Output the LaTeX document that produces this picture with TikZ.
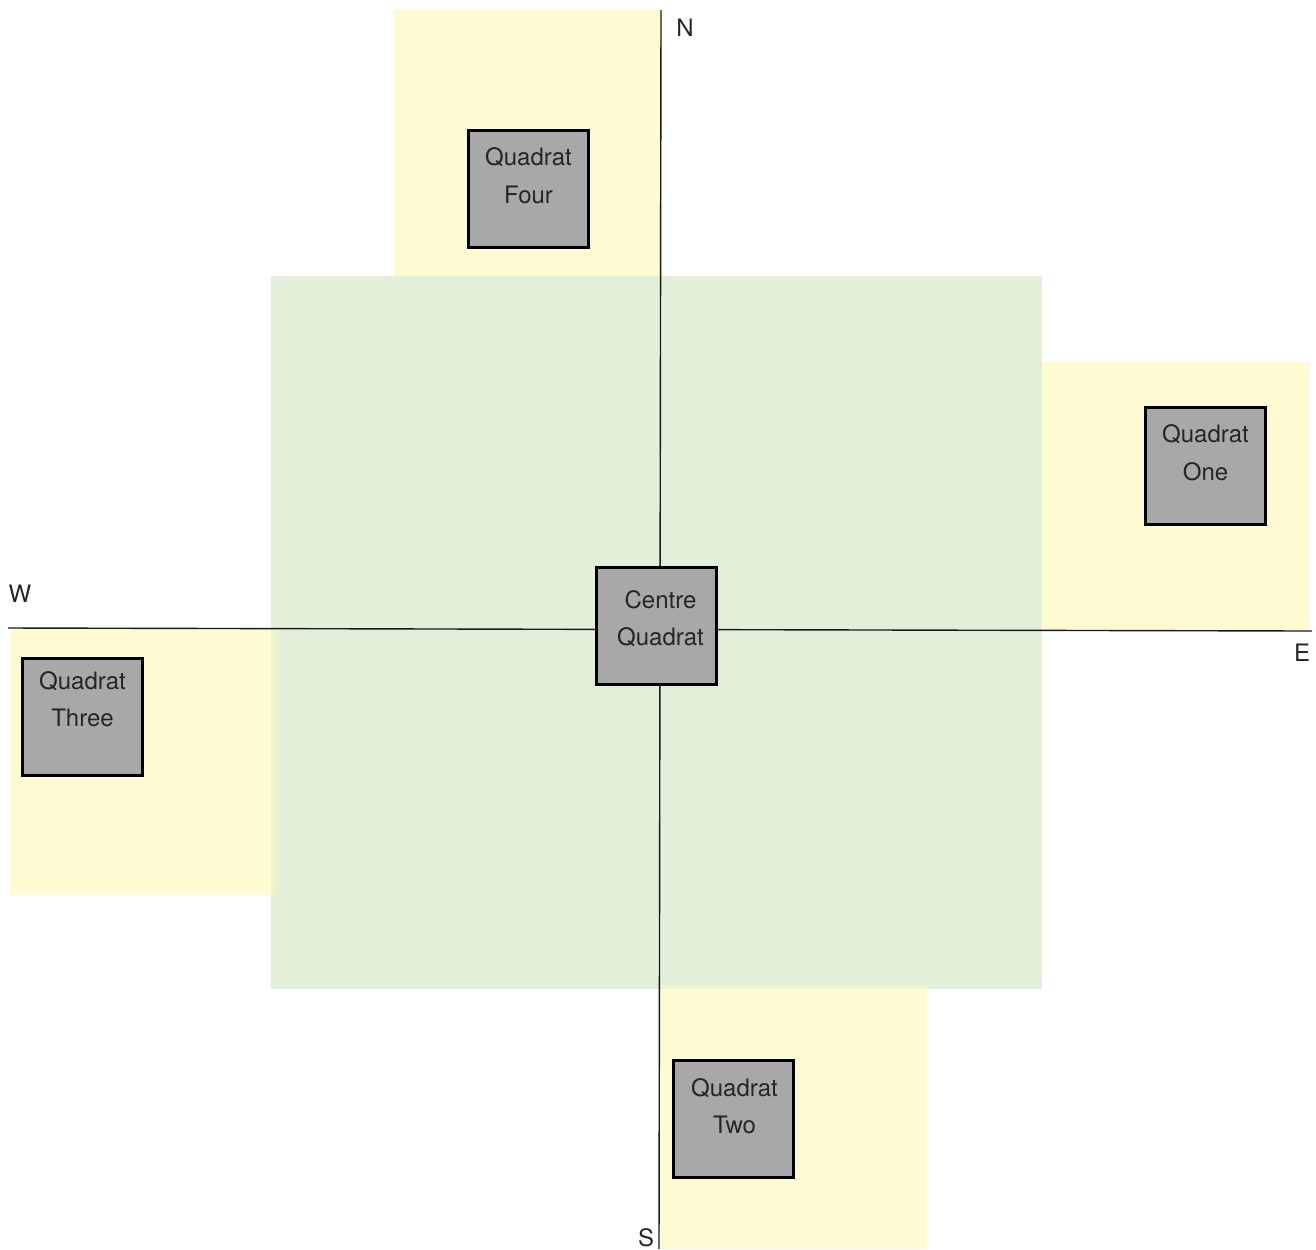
\documentclass[tikz,border=0pt]{standalone}
\usepackage{fontspec}
\setmainfont{TeX Gyre Heros}
\definecolor{zonegreen}{HTML}{E3F0D9}
\definecolor{zoneyellow}{HTML}{FEFBD3}
\definecolor{zoneblend}{HTML}{EEF5CA}
\definecolor{quadgray}{HTML}{A8A8A8}
\definecolor{axisgray}{HTML}{1A1A1A}
\tikzset{
  quadbox/.style={draw=black, line width=1.5pt, fill=quadgray, minimum width=60pt, minimum height=58.5pt, inner sep=0pt},
  quadtext/.style={anchor=north, align=center, inner sep=0pt, font=\fontsize{12}{18.8}\selectfont, text=black!85},
  axisline/.style={draw=axisgray, line width=0.7pt},
  compass/.style={font=\fontsize{12}{14}\selectfont, text=black!85, inner sep=0pt}
}
\begin{document}
\begin{tikzpicture}[x=0.5pt,y=-0.5pt]
\useasboundingbox (0,0) rectangle (1316,1249);
% zones
\fill[zoneyellow] (394,10) rectangle (661,276);
\fill[zoneyellow] (1042,362) rectangle (1309,630);
\fill[zoneyellow] (10,628) rectangle (277,895);
\fill[zoneyellow] (661,987) rectangle (927,1249);
\fill[zonegreen] (271,276) rectangle (1042,989);
\fill[zoneblend] (271,628) rectangle (277,895);
\fill[zoneblend] (661,985) rectangle (927,989);
% axes
\coordinate (ntop) at (661,10);
\coordinate (sbot) at (659,1249);
\coordinate (wend) at (8,628);
\coordinate (eend) at (1312,631);
\draw[axisline] (ntop) -- (sbot);
\draw[axisline] (wend) -- (eend);
% compass labels
\node[compass] (lblN) at (685,28) {N};
\node[compass] (lblW) at (20,594) {W};
\node[compass] (lblE) at (1302,653) {E};
\node[compass] (lblS) at (646,1238) {S};
% quadrats
\node[quadbox] (qc) at (656.5,626) {};
\node[quadtext, xshift=2pt, yshift=-11.9pt] (tc) at (qc.north) {Centre\\Quadrat};
\node[quadbox] (q4) at (528.5,188.5) {};
\node[quadtext, yshift=-9.4pt] (t4) at (q4.north) {Quadrat\\Four};
\node[quadbox] (q1) at (1205.5,465.5) {};
\node[quadtext, yshift=-9.4pt] (t1) at (q1.north) {Quadrat\\One};
\node[quadbox] (q3) at (82.5,716.5) {};
\node[quadtext, yshift=-7.2pt] (t3) at (q3.north) {Quadrat\\Three};
\node[quadbox] (q2) at (733.5,1119) {};
\node[quadtext, xshift=0.5pt, yshift=-9.4pt] (t2) at (q2.north) {Quadrat\\Two};
\end{tikzpicture}
\end{document}
